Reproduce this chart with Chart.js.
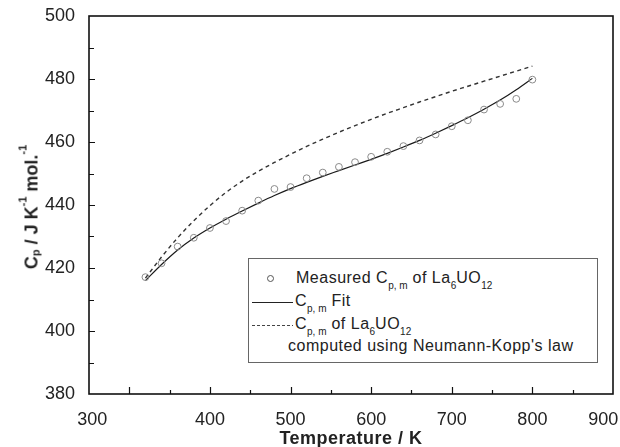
<!DOCTYPE html>
<html lang="en">
<head>
  <meta charset="UTF-8">
  <title>Cp of La6UO12</title>
  <script src="https://cdn.jsdelivr.net/npm/chart.js"></script>
  <style>
    body { margin: 0; background: #fff; font-family: 'Liberation Sans', Arial, sans-serif; color: #222; }
    #wrap { position: relative; width: 620px; height: 447px; }
    #yTitle {
      position: absolute; left: 29px; top: 207px; white-space: nowrap;
      font-weight: bold; font-size: 18px; line-height: 18px;
      transform: translate(-50%, -50%) rotate(-90deg);
    }
    #yTitle .sb { font-size: 11px; vertical-align: -2px; }
    #yTitle .sp { font-size: 11px; vertical-align: 11px; }
    #xTitle {
      position: absolute; left: 89px; width: 524px; top: 429px; text-align: center;
      font-weight: bold; font-size: 18px; line-height: 18px; letter-spacing: 0.5px;
    }
    #legend {
      position: absolute; left: 248px; top: 258px; width: 350px; height: 105px;
      box-sizing: border-box; border: 1px solid #666; background: #fff;
    }
    #legend .row { position: absolute; white-space: nowrap; font-size: 16px; line-height: 16px; letter-spacing: 0.5px; }
    #legend .sb { font-size: 10px; vertical-align: -6px; letter-spacing: 0; }
    .mark { position: absolute; }
  </style>
</head>
<body>
<div id="wrap">
  <canvas id="chartCp" width="620" height="447"></canvas>

  <div id="yTitle">C<span class="sb">p</span> / J K<span class="sp">-1</span> mol.<span class="sp">-1</span></div>
  <div id="xTitle">Temperature / K</div>

  <div id="legend">
    <div class="mark" style="left:18px;top:16px;width:5px;height:5px;border:1px solid #555;border-radius:50%;"></div>
    <div class="row" style="left:47px;top:11px;">Measured C<span class="sb">p, m</span> of La<span class="sb">6</span>UO<span class="sb">12</span></div>

    <div class="mark" style="left:3px;top:43px;width:41px;height:1px;background:#222;"></div>
    <div class="row" style="left:46px;top:34px;">C<span class="sb">p, m</span> Fit</div>

    <div class="mark" style="left:3px;top:66px;width:41px;height:1px;background:repeating-linear-gradient(to right,#444 0 3px,transparent 3px 5px);"></div>
    <div class="row" style="left:46px;top:57px;">C<span class="sb">p, m</span> of La<span class="sb">6</span>UO<span class="sb">12</span></div>

    <div class="row" style="left:39px;top:79px;">computed using Neumann-Kopp's law</div>
  </div>
</div>

<script>
  // temperature (K)
  const temps = [320, 340, 360, 380, 400, 420, 440, 460, 480, 500, 520, 540, 560,
                 580, 600, 620, 640, 660, 680, 700, 720, 740, 760, 780, 800];
  // measured Cp,m (J/K/mol)
  const measured = [417.1, 421.5, 426.8, 429.6, 432.7, 434.9, 438.2, 441.4, 445.1, 445.7, 448.5, 450.3, 452.1,
                    453.6, 455.3, 456.9, 458.7, 460.5, 462.4, 465.0, 466.9, 470.3, 472.1, 473.7, 479.8];
  // Cp,m fit
  const fit = [416.0, 421.1, 425.7, 429.5, 432.7, 435.5, 438.1, 440.6, 443.0, 445.2, 447.2, 449.1, 450.9,
               452.7, 454.5, 456.4, 458.4, 460.5, 462.8, 465.2, 467.7, 470.4, 473.3, 476.6, 480.2];
  // Neumann-Kopp estimate
  const neumannKopp = [416.8, 423.5, 429.6, 435.0, 439.8, 444.0, 447.6, 450.7, 453.5, 456.1, 458.6, 460.9, 463.1,
                       465.2, 467.2, 469.1, 470.9, 472.7, 474.4, 476.1, 477.7, 479.3, 480.9, 482.5, 484.1];

  // x tick labels as printed on the figure (first and last labels are pulled in to the frame)
  const xTickValues = [254, 400, 500, 600, 700, 800, 888];
  const xTickLabels = ['300', '400', '500', '600', '700', '800', '900'];
  const yTickValues = [380, 400, 420, 440, 460, 480, 500];

  const pts = arr => temps.map((t, i) => ({ x: t, y: arr[i] }));

  // frame + inward tick marks
  const framePlugin = {
    id: 'frame',
    afterDatasetsDraw(chart) {
      const { ctx, chartArea: a, scales: { x, y } } = chart;
      ctx.save();
      ctx.strokeStyle = '#111';
      ctx.lineWidth = 1.2;
      ctx.beginPath();
      for (let v = 300; v < 900; v += 50) {
        const px = Math.round(x.getPixelForValue(v)) + 0.5;
        const len = v % 100 === 0 ? 7 : 4;
        ctx.moveTo(px, a.bottom);
        ctx.lineTo(px, a.bottom - len);
      }
      for (let v = 390; v < 500; v += 10) {
        const py = Math.round(y.getPixelForValue(v)) + 0.5;
        const len = v % 20 === 0 ? 6 : 5;
        ctx.moveTo(a.left, py);
        ctx.lineTo(a.left + len, py);
      }
      ctx.stroke();
      ctx.lineWidth = 1.6;
      ctx.strokeRect(a.left, a.top, a.right - a.left, a.bottom - a.top);
      ctx.restore();
    }
  };

  new Chart(document.getElementById('chartCp'), {
    type: 'scatter',
    data: {
      datasets: [
        {
          label: 'Measured',
          data: pts(measured),
          showLine: false,
          pointStyle: 'circle',
          pointRadius: 3.4,
          pointBorderWidth: 1,
          pointBorderColor: '#8a8a8a',
          pointBackgroundColor: 'rgba(0,0,0,0)'
        },
        {
          label: 'Fit',
          data: pts(fit),
          showLine: true,
          pointRadius: 0,
          borderColor: '#1a1a1a',
          borderWidth: 1.2,
          cubicInterpolationMode: 'monotone'
        },
        {
          label: 'Neumann-Kopp',
          data: pts(neumannKopp),
          showLine: true,
          pointRadius: 0,
          borderColor: '#333',
          borderWidth: 1.4,
          borderDash: [4, 3.5],
          cubicInterpolationMode: 'monotone'
        }
      ]
    },
    options: {
      responsive: false,
      animation: false,
      layout: { padding: { left: 0, top: 16, right: 7, bottom: 0 } },
      plugins: { legend: { display: false }, tooltip: { enabled: false } },
      scales: {
        x: {
          type: 'linear', min: 250, max: 900,
          grid: { display: false }, border: { display: false },
          afterBuildTicks: s => { s.ticks = xTickValues.map(v => ({ value: v })); },
          afterFit: s => { s.height = 53; s.paddingLeft = 0; s.paddingRight = 0; },
          ticks: {
            padding: 7, color: '#222', maxRotation: 0, autoSkip: false,
            font: { family: "'Liberation Sans', Arial, sans-serif", size: 18 },
            callback: v => xTickLabels[xTickValues.indexOf(v)]
          }
        },
        y: {
          type: 'linear', min: 380, max: 500,
          grid: { display: false }, border: { display: false },
          afterBuildTicks: s => { s.ticks = yTickValues.map(v => ({ value: v })); },
          afterFit: s => { s.width = 89; s.paddingTop = 0; s.paddingBottom = 0; },
          ticks: {
            padding: 6, color: '#222',
            font: { family: "'Liberation Sans', Arial, sans-serif", size: 18 }
          }
        }
      }
    },
    plugins: [framePlugin]
  });
</script>
</body>
</html>
